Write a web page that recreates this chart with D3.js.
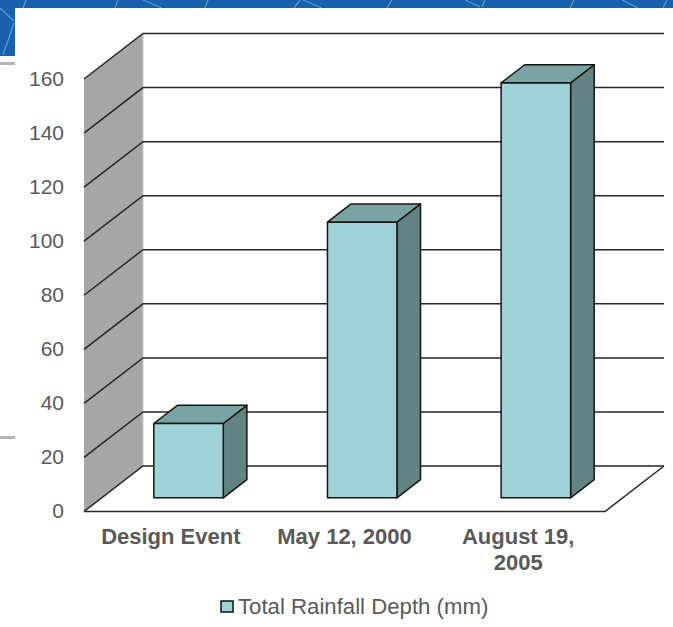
<!DOCTYPE html>
<html>
<head>
<meta charset="utf-8">
<script src="https://cdn.jsdelivr.net/npm/d3@7/dist/d3.min.js"></script>
<style>
html, body { margin: 0; padding: 0; background: #fff; }
svg { display: block; font-family: "Liberation Sans", Arial, sans-serif; }
</style>
</head>
<body>
<svg id="chart" width="673" height="627"></svg>
<script>
// Rainfall totals per event
const categories = ["Design Event", "May 12, 2000", "August 19, 2005"];
const categoryLines = [["Design Event"], ["May 12, 2000"], ["August 19,", "2005"]];
const rainfall = [27.5, 102, 153.5];
const yTicks = [0, 20, 40, 60, 80, 100, 120, 140, 160];
const seriesName = "Total Rainfall Depth (mm)";

const colors = {
  banner: "#1a61ad", bannerLine: "#5f97d3", rule: "#b4b4b4",
  wall: "#a6a6a6", wallEdge: "#c9c9c9", line: "#262626", text: "#595959",
  front: "#9fd3d8", top: "#7aa3a5", side: "#638382"
};

const svg = d3.select("#chart");
const x = d3.scaleBand().domain(categories).range([84, 605]).paddingInner(0.6).paddingOuter(0.3);
const y = d3.scaleLinear().domain([0, 160]).range([511.5, 79]);

// Oblique projection: depth 0 is the front plane, depth 1 the back wall
const depthX = d3.scaleLinear().domain([0, 1]).range([0, 59]);
const depthY = d3.scaleLinear().domain([0, 1]).range([0, -45.5]);
const project = (px, value, depth) => [px + depthX(depth), y(value) + depthY(depth)];
const outline = d3.line();

// Slide furniture behind the chart panel
const bg = svg.append("g");
bg.append("rect").attr("width", 673).attr("height", 8).attr("fill", colors.banner);
bg.append("rect").attr("width", 15).attr("height", 56).attr("fill", colors.banner);
const bannerStrokes = [
  [[14, 23], [3, 55]], [[0, 8], [14, 21]], [[26, 0], [23, 8]],
  [[115, 8], [118, 0]], [[143, 0], [162, 8]], [[205, 8], [208, 0]],
  [[294, 8], [300, 0]], [[303, 0], [322, 8]], [[387, 8], [392, 0]],
  [[465, 0], [480, 7]], [[482, 7], [485, 0]], [[570, 8], [574, 0]],
  [[622, 0], [638, 8]], [[663, 8], [667, 0]]
];
bg.selectAll("path.stroke").data(bannerStrokes).join("path")
  .attr("class", "stroke").attr("d", outline)
  .attr("stroke", colors.bannerLine).attr("stroke-width", 1.3).attr("fill", "none");
bg.selectAll("rect.rule").data([62, 436]).join("rect")
  .attr("class", "rule").attr("x", 0).attr("y", d => d).attr("width", 15).attr("height", 3)
  .attr("fill", colors.rule);

// Side wall
const plot = svg.append("g");
plot.append("path")
  .attr("d", outline([project(84, 0, 0), project(84, 160, 0), project(84, 160, 1), project(84, 0, 1)]) + "Z")
  .attr("fill", colors.wall);
plot.append("path")
  .attr("d", outline([project(84, 0, 1), project(84, 160, 1)]))
  .attr("stroke", colors.wallEdge).attr("stroke-width", 1).attr("fill", "none");

// Gridlines wrapping from the side wall onto the back wall
plot.selectAll("path.grid").data(yTicks).join("path")
  .attr("class", "grid")
  .attr("d", v => outline([project(84, v, 0), project(84, v, 1), project(605, v, 1)]))
  .attr("fill", "none").attr("stroke", colors.line).attr("stroke-width", 1.5);

// Floor edges
plot.append("path")
  .attr("d", outline([project(84, 0, 0), project(605, 0, 0), project(605, 0, 1)]))
  .attr("fill", "none").attr("stroke", colors.line).attr("stroke-width", 1.5);

// Bars: each is three faces of a box standing between two depths
const nearDepth = 0.3, farDepth = 0.7;
const bars = plot.selectAll("g.bar")
  .data(categories.map((c, i) => ({ c, v: rainfall[i] })))
  .join("g").attr("class", "bar")
  .attr("stroke", "#151515").attr("stroke-width", 1.5).attr("stroke-linejoin", "round");
const faces = [
  { fill: colors.side, pts: d => { const r = x(d.c) + x.bandwidth(); return [project(r, 0, nearDepth), project(r, d.v, nearDepth), project(r, d.v, farDepth), project(r, 0, farDepth)]; } },
  { fill: colors.top, pts: d => { const l = x(d.c), r = l + x.bandwidth(); return [project(l, d.v, nearDepth), project(r, d.v, nearDepth), project(r, d.v, farDepth), project(l, d.v, farDepth)]; } },
  { fill: colors.front, pts: d => { const l = x(d.c), r = l + x.bandwidth(); return [project(l, 0, nearDepth), project(r, 0, nearDepth), project(r, d.v, nearDepth), project(l, d.v, nearDepth)]; } }
];
faces.forEach(face => {
  bars.append("path").attr("d", d => outline(face.pts(d)) + "Z").attr("fill", face.fill);
});

// Value axis
const yAxis = svg.append("g").attr("transform", "translate(84,-0.6)")
  .call(d3.axisLeft(y).tickValues(yTicks).tickSize(0).tickPadding(20));
yAxis.select(".domain").remove();
yAxis.selectAll("text").attr("fill", colors.text).attr("font-size", 21).attr("font-family", "Liberation Sans");

// Category axis, with hand-broken labels
const xAxis = svg.append("g").attr("transform", "translate(0,511.5)")
  .call(d3.axisBottom(x).tickSize(0).tickPadding(0).tickFormat(""));
xAxis.select(".domain").remove();
xAxis.selectAll(".tick text").each(function (d, i) {
  const t = d3.select(this).attr("y", 0).attr("dy", null)
    .attr("fill", colors.text).attr("font-size", 22).attr("font-weight", 700)
    .attr("font-family", "Liberation Sans");
  categoryLines[i].forEach((line, k) => {
    t.append("tspan").attr("x", 0).attr("y", 32.5 + k * 26).text(line);
  });
});

// Legend
const legend = svg.append("g");
legend.append("rect").attr("x", 221).attr("y", 601).attr("width", 12).attr("height", 11)
  .attr("fill", colors.front).attr("stroke", "#111").attr("stroke-width", 1.5);
legend.append("text").attr("x", 238).attr("y", 613.5)
  .attr("fill", colors.text).attr("font-size", 22.2).text(seriesName);
</script>
</body>
</html>
